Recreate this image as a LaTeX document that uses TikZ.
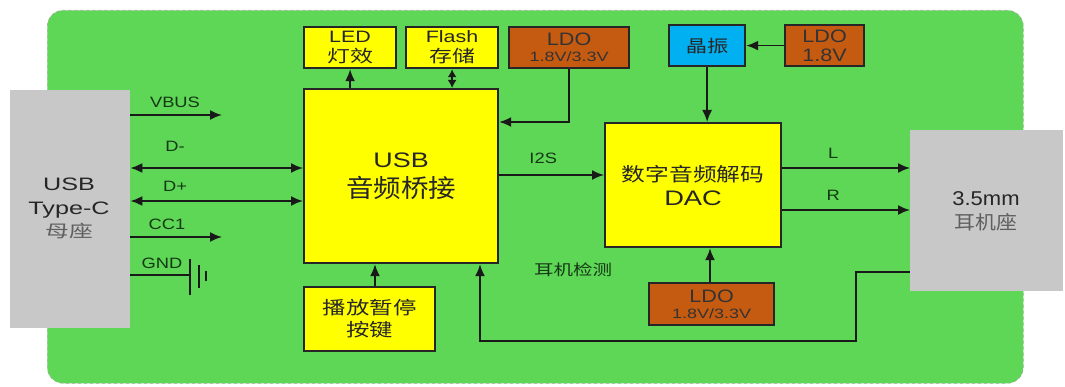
\documentclass[tikz,border=0pt]{standalone}
\usepackage{graphicx}
\usepackage{fontspec}
\setmainfont{Liberation Sans}
\newfontfamily\cjk{Noto Sans CJK SC}
\usetikzlibrary{arrows.meta}
\definecolor{bggreen}{RGB}{94,214,86}
\definecolor{boxyellow}{RGB}{255,255,0}
\definecolor{ldoorange}{RGB}{197,90,17}
\definecolor{xtalblue}{RGB}{0,176,240}
\definecolor{conngray}{RGB}{200,200,200}
\definecolor{labelgreen}{RGB}{20,55,20}
\definecolor{graytext}{RGB}{95,95,95}
\newcommand{\fs}[2]{\fontsize{#1}{#2}\selectfont}
\newcommand{\sx}[2]{\scalebox{#1}[1]{#2}}
\tikzset{
  blk/.style={draw=black!85, line width=2.2pt, inner sep=0pt, align=center, text=black!85},
  ybox/.style={blk, fill=boxyellow},
  obox/.style={blk, fill=ldoorange, text=black!80},
  bbox/.style={blk, fill=xtalblue},
  gbox/.style={fill=conngray, inner sep=0pt, align=center},
  wire/.style={line width=1.8pt, draw=black!90},
  arr/.style={wire, -{Latex[length=12pt,width=10pt]}},
  darr/.style={wire, {Latex[length=12pt,width=10pt]}-{Latex[length=12pt,width=10pt]}},
  sdarr/.style={wire, {Latex[length=8pt,width=9pt]}-{Latex[length=8pt,width=9pt]}},
  lbl/.style={font=\fs{15}{17}, text=labelgreen, inner sep=0pt}
}
\begin{document}
\begin{tikzpicture}[x=1pt,y=-1pt]
\useasboundingbox (0,0) rectangle (1065,387);
% background
\node[fill=bggreen, draw=black!35, dashed, line width=0.6pt, rounded corners=16pt, minimum width=976pt, minimum height=373pt, anchor=north west, inner sep=0pt] (bg) at (47,10) {};
% connector boxes
\node[gbox, minimum width=120pt, minimum height=238pt, anchor=north west] (usbc) at (10,90) {};
\node[align=center, text=black!85, font=\fs{18}{24}] (usbctxt) at (69,208) {\sx{1.4}{USB}\\\sx{1.4}{Type-C}\\[-1pt]\sx{1.4}{\cjk\color{graytext}\fs{17}{22}母座}};
\node[gbox, minimum width=153pt, minimum height=161pt, anchor=north west] (jack) at (910,130) {};
\node[align=center, text=black!85, font=\fs{20}{24}] (jacktxt) at (986,211) {\sx{1.1}{3.5mm}\\\sx{1.1}{\cjk\color{graytext}\fs{19}{22}耳机座}};
% main blocks
\node[ybox, font=\fs{21}{30}, minimum width=194pt, minimum height=174pt, anchor=north west] (bridge) at (303,88) {\sx{1.28}{USB}\\\sx{1.1}{\cjk\fs{25}{30}音频桥接}};
\node[ybox, font=\fs{16.5}{22}, minimum width=92pt, minimum height=41pt, anchor=north west] (led) at (303,26) {\sx{1.3}{LED}\\[-2pt]\sx{1.35}{\cjk\fs{17}{22}灯效}};
\node[ybox, font=\fs{16.5}{22}, minimum width=92pt, minimum height=41pt, anchor=north west] (flash) at (405,26) {\sx{1.3}{Flash}\\[-2pt]\sx{1.35}{\cjk\fs{17}{22}存储}};
\node[obox, font=\fs{18}{16}, minimum width=120pt, minimum height=41pt, anchor=north west] (ldoa) at (508,26) {\sx{1.2}{LDO}\\\sx{1.33}{\fs{13.5}{16}1.8V/3.3V}};
\node[bbox, font=\cjk\fs{17}{19}, minimum width=76pt, minimum height=41pt, anchor=north west] (xtal) at (668,24) {\sx{1.25}{晶振}};
\node[obox, font=\fs{18}{19}, minimum width=79pt, minimum height=41pt, anchor=north west] (ldob) at (784,24) {\sx{1.2}{LDO}\\\sx{1.2}{1.8V}};
\node[ybox, font=\fs{21}{24}, minimum width=176pt, minimum height=124pt, anchor=north west] (dac) at (604,122) {\sx{1.25}{\cjk\fs{19}{24}数字音频解码}\\\sx{1.3}{DAC}};
\node[obox, font=\fs{18}{16}, minimum width=125pt, minimum height=42pt, anchor=north west] (ldoc) at (648,282) {\sx{1.2}{LDO}\\\sx{1.33}{\fs{13.5}{16}1.8V/3.3V}};
\node[ybox, font=\cjk\fs{18}{22}, minimum width=131pt, minimum height=64pt, anchor=north west] (btn) at (303,286) {\sx{1.3}{播放暂停}\\\sx{1.3}{按键}};
% free ends
\coordinate (vbusend) at (222,115);
\coordinate (cc1end) at (222,237);
\coordinate (gndx) at (190,275);
% USB-C signals
\draw[arr] (usbc.east |- vbusend) -- (vbusend);
\node[lbl] (vbuslbl) at (175,102) {\sx{1.22}{VBUS}};
\draw[darr] (usbc.east |- 0,168) -- (bridge.west |- 0,168);
\node[lbl] (dmlbl) at (175,146) {\sx{1.22}{D-}};
\draw[darr] (usbc.east |- 0,201) -- (bridge.west |- 0,201);
\node[lbl] (dplbl) at (175,186) {\sx{1.22}{D+}};
\draw[arr] (usbc.east |- cc1end) -- (cc1end);
\node[lbl] (cc1lbl) at (167,224) {\sx{1.22}{CC1}};
\draw[wire] (usbc.east |- gndx) -- (gndx);
\node[lbl] (gndlbl) at (162,263) {\sx{1.22}{GND}};
\draw[wire] (190,259) -- (190,295);
\draw[wire] (199,265) -- (199,288);
\draw[wire] (206,271) -- (206,281);
% top
\draw[arr] (bridge.north -| led) -- (led.south);
\draw[sdarr] (bridge.north -| flash) -- (flash.south);
\draw[arr] (ldoa.south) -- (ldoa.south |- 0,122) -- (bridge.east |- 0,122);
\draw[arr] (bridge.east |- 0,175) -- node[lbl, above=10pt, pos=0.42] (i2slbl) {\sx{1.22}{I2S}} (dac.west |- 0,175);
\draw[arr] (xtal.south) -- (xtal.south |- dac.north);
\draw[arr] (ldob.west) -- (xtal.east);
\draw[arr] (dac.east |- 0,168) -- node[lbl, above=9pt, pos=0.4] (llbl) {\sx{1.22}{L}} (jack.west |- 0,168);
\draw[arr] (dac.east |- 0,210) -- node[lbl, above=9pt, pos=0.4] (rlbl) {\sx{1.22}{R}} (jack.west |- 0,210);
\draw[arr] (ldoc.north -| 710,0) -- (dac.south -| 710,0);
\draw[arr] (btn.north -| 375,0) -- (bridge.south -| 375,0);
\draw[arr] (jack.west |- 0,272) -- (856,272) -- (856,341) -- (480,341) -- (bridge.south -| 480,0);
\node[lbl, font=\cjk\fs{15}{17}] (detlbl) at (573,270) {\sx{1.3}{耳机检测}};
\end{tikzpicture}
\end{document}
